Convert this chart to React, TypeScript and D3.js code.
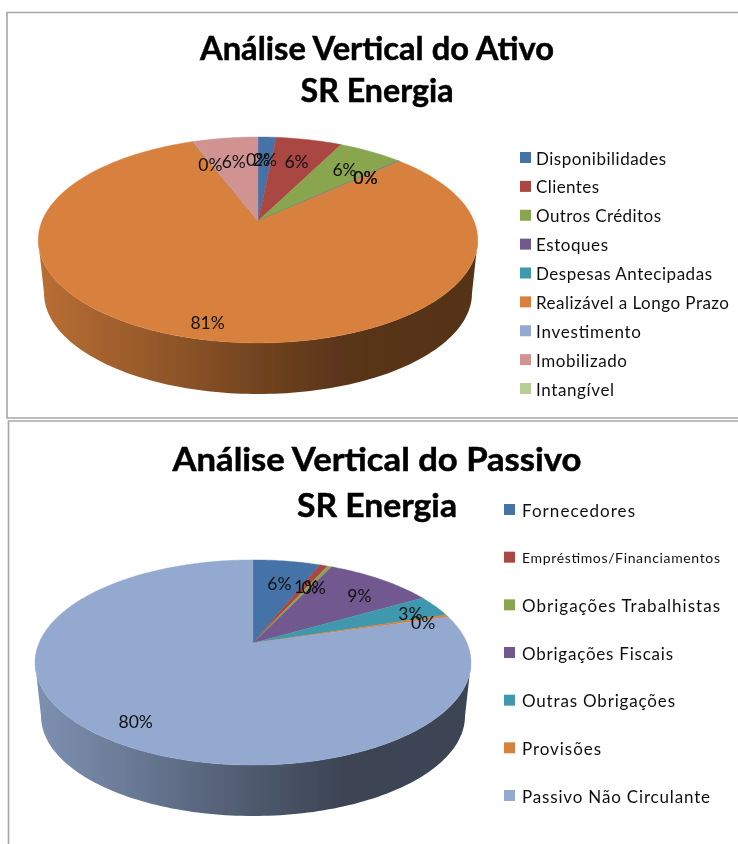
import React from "react";
import * as d3 from "d3";

const FONT = "Lato, Carlito, sans-serif";

// ---- Data: Ativo
const ativoCategories = ["Disponibilidades", "Clientes", "Outros Créditos", "Estoques", "Despesas Antecipadas", "Realizável a Longo Prazo", "Investimento", "Imobilizado", "Intangível"];
const ativoValues = [1.6, 5.8, 5.7, 0.04, 0.04, 81.06, 0.06, 5.7, 0];
const ativoLabels = ["2%", "6%", "6%", "0%", "0%", "81%", "0%", "6%", "0%"];
const ativoColors = ["#4572a7", "#aa4643", "#89a54e", "#71588f", "#4198af", "#d8803c", "#93a9cf", "#d19392", "#b9cd96"];
const ativoLabelRadii = [0.72, 0.72, 0.74, 0.74, 0.74, 0.87, 0.7, 0.71, 0.72];
const ativoLabelShift = [[0, 0], [0, 0], [0, 0], [0, 0], [0, 0], [1, 0], [0, 0], [0, 0], [0, 0]];
const ativoLegendWidths = [130, 63, 125, 72, 176, 193, 105, 91, 78];

// ---- Data: Passivo
const passivoCategories = ["Fornecedores", "Empréstimos/Financiamentos", "Obrigações Trabalhistas", "Obrigações Fiscais", "Outras Obrigações", "Provisões", "Passivo Não Circulante"];
const passivoValues = [6.0, 0.7, 0.4, 9.6, 3.45, 0.4, 79.45];
const passivoLabels = ["6%", "1%", "0%", "9%", "3%", "0%", "80%"];
const passivoColors = ["#4572a7", "#aa4643", "#89a54e", "#71588f", "#4198af", "#d8803c", "#93a9cf"];
const passivoLabelRadii = [0.72, 0.72, 0.72, 0.78, 0.85, 0.87, 0.83];
const passivoLabelShift = [[1, 0], [0, 0], [3, 0], [4, 2], [1, 0], [0, 1], [5, 1]];
const passivoLegendWidths = [113, 198, 198, 151, 153, 79, 188];

type Chart = {
  id: string;
  title: string[];
  titleWidths: number[];
  titleY: number[];
  titleCx: number;
  categories: string[];
  values: number[];
  labels: string[];
  colors: string[];
  labelRadii: number[];
  labelShift: number[][];
  legendWidths: number[];
  legendFont: number[];
  legendSwatchX: number;
  legendTextX: number;
  legendY: [number, number];
  apex: [number, number];
  R: number;
  S: number;
  k: number;
  bottom: { cy: number; rx: number; ry: number };
};

const charts: Chart[] = [
  {
    id: "ativo",
    title: ["Análise Vertical do Ativo", "SR Energia"],
    titleWidths: [354, 153],
    titleY: [60, 102],
    titleCx: 377,
    categories: ativoCategories,
    values: ativoValues,
    labels: ativoLabels,
    colors: ativoColors,
    labelRadii: ativoLabelRadii,
    labelShift: ativoLabelShift,
    legendWidths: ativoLegendWidths,
    legendFont: ativoCategories.map(() => 17),
    legendSwatchX: 520,
    legendTextX: 536,
    legendY: [158, 389],
    apex: [258, 221],
    R: 216,
    S: 99.5,
    k: 0.184,
    bottom: { cy: 293, rx: 214, ry: 101 },
  },
  {
    id: "passivo",
    title: ["Análise Vertical do Passivo", "SR Energia"],
    titleWidths: [409, 160],
    titleY: [471, 517],
    titleCx: 377,
    categories: passivoCategories,
    values: passivoValues,
    labels: passivoLabels,
    colors: passivoColors,
    labelRadii: passivoLabelRadii,
    labelShift: passivoLabelShift,
    legendWidths: passivoLegendWidths,
    legendFont: passivoCategories.map((c) => (c.length > 24 ? 14 : 17)),
    legendSwatchX: 504,
    legendTextX: 522,
    legendY: [510, 796],
    apex: [253, 643],
    R: 214,
    S: 98.9,
    k: 0.19,
    bottom: { cy: 716, rx: 212, ry: 100 },
  },
];

function PieChart({ c }: { c: Chart }) {
  const pie = d3.pie<number>().sort(null).value((d) => d);
  const arcs = pie(c.values);
  const project = (theta: number, r: number): [number, number] => {
    const u = Math.sin(theta) * r;
    const v = -Math.cos(theta) * r;
    const w = 1 - c.k * v;
    return [c.apex[0] + (c.R * u) / w, c.apex[1] + (c.S * v) / w];
  };
  const line = d3.line();
  const slicePath = (a0: number, a1: number) => {
    const n = Math.max(2, Math.ceil((a1 - a0) * 60));
    const pts = d3.range(n + 1).map((i) => project(a0 + ((a1 - a0) * i) / n, 1));
    return line([project(0, 0), ...pts]) + "Z";
  };

  // front wall: lower half of the rim (right to left), then the base ellipse (left to right)
  const rimMidY = c.apex[1] + 19;
  const frontTop = d3
    .range(0, 361)
    .map((i) => project((i * Math.PI) / 180, 1))
    .filter((p) => p[1] >= rimMidY - 1);
  const frontBase = d3.range(0, 121).map((i): [number, number] => {
    const t = Math.PI - (i * Math.PI) / 120;
    return [c.apex[0] + c.bottom.rx * Math.cos(t), c.bottom.cy + c.bottom.ry * Math.sin(t)];
  });
  const wall = line([...frontTop, ...frontBase]) + "Z";

  const front = arcs.find((a) => a.startAngle <= Math.PI && a.endAngle >= Math.PI)!;
  const baseColor = c.colors[front.index];
  const shade = (f: number) => {
    const col = d3.rgb(baseColor);
    return d3.rgb(col.r * f, col.g * f, col.b * f).formatHex();
  };
  const x0 = c.apex[0] - c.R * 1.02;
  const x1 = c.apex[0] + c.R * 1.02;

  const legendScale = d3.scalePoint<string>().domain(c.categories).range(c.legendY);

  return (
    <g>
      <defs>
        <linearGradient id={`side-${c.id}`} gradientUnits="userSpaceOnUse" x1={x0} x2={x1} y1={0} y2={0}>
          <stop offset="0" stopColor={shade(0.86)} />
          <stop offset="0.25" stopColor={shade(0.7)} />
          <stop offset="0.5" stopColor={shade(0.53)} />
          <stop offset="0.7" stopColor={shade(0.41)} />
          <stop offset="1" stopColor={shade(0.4)} />
        </linearGradient>
      </defs>
      <path d={wall} fill={`url(#side-${c.id})`} />
      {arcs.map((a) => (
        <path key={a.index} d={slicePath(a.startAngle, a.endAngle)} fill={c.colors[a.index]} stroke={a.value > 0 ? c.colors[a.index] : "none"} strokeWidth={0.4} />
      ))}
      {arcs.map((a) => {
        const [x, y] = project((a.startAngle + a.endAngle) / 2, c.labelRadii[a.index]);
        const [sx, sy] = c.labelShift[a.index];
        return (
          <text key={a.index} x={x + sx} y={y + sy + 2} textAnchor="middle" dominantBaseline="central" fontFamily={FONT} fontSize={17.5} fill="#111">
            {c.labels[a.index]}
          </text>
        );
      })}
      {c.title.map((t, i) => (
        <text key={t} x={c.titleCx} y={c.titleY[i]} textAnchor="middle" fontFamily={FONT} fontWeight={700} fontSize={33} fill="#000" stroke="#000" strokeWidth={0.5} textLength={c.titleWidths[i]} lengthAdjust="spacingAndGlyphs">
          {t}
        </text>
      ))}
      {c.categories.map((cat, i) => {
        const y = legendScale(cat)!;
        return (
          <g key={cat}>
            <rect x={c.legendSwatchX} y={y - 6} width={11} height={11} fill={c.colors[i]} />
            <text x={c.legendTextX} y={y} dominantBaseline="central" fontFamily={FONT} fontSize={c.legendFont[i]} fill="#111" textLength={c.legendWidths[i]}>
              {cat}
            </text>
          </g>
        );
      })}
    </g>
  );
}

export default function App() {
  return (
    <svg width={738} height={844} viewBox="0 0 738 844" style={{ position: "absolute", left: 0, top: 0, background: "#fff" }}>
      <defs>
        <filter id="soft" x="0" y="0" width="100%" height="100%">
          <feGaussianBlur stdDeviation="0.45" />
        </filter>
      </defs>
      <g filter="url(#soft)">
        <rect width={738} height={844} fill="#fff" />
        <path d="M738 12.5H7V418H738" fill="none" stroke="#a6a6a6" strokeWidth={1.6} />
        <path d="M738 421H8.5V844" fill="none" stroke="#a6a6a6" strokeWidth={1.6} />
        {charts.map((c) => (
          <PieChart key={c.id} c={c} />
        ))}
      </g>
    </svg>
  );
}
